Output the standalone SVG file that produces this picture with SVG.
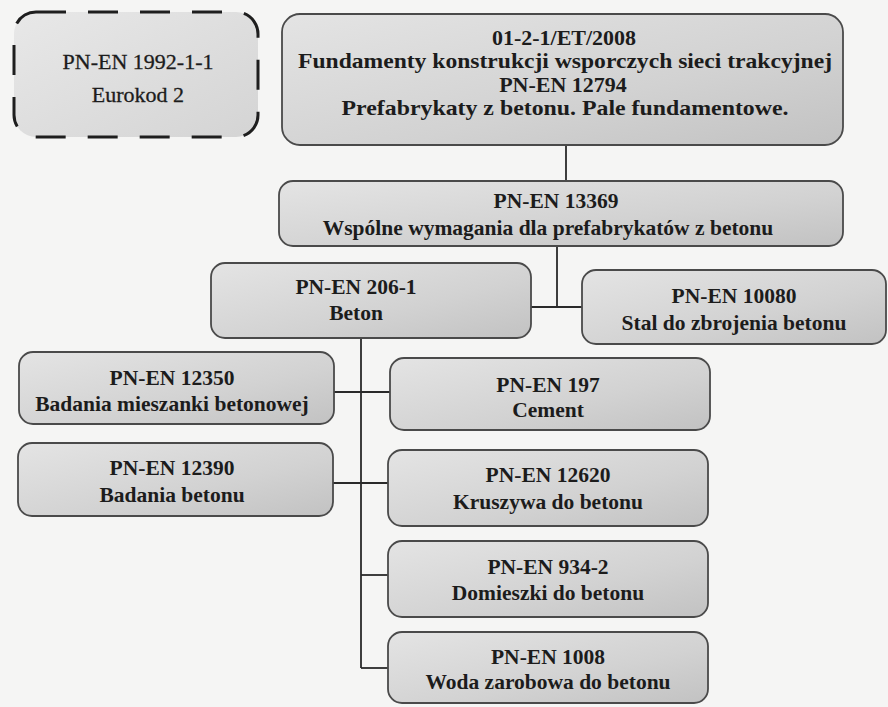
<svg xmlns="http://www.w3.org/2000/svg" width="888" height="707" viewBox="0 0 888 707">
<defs>
<linearGradient id="g" x1="0" y1="0" x2="1" y2="1">
<stop offset="0" stop-color="#e4e4e4"/>
<stop offset="0.6" stop-color="#d2d2d2"/>
<stop offset="1" stop-color="#c2c2c2"/>
</linearGradient>
<linearGradient id="gd" x1="0" y1="0" x2="1" y2="1">
<stop offset="0" stop-color="#e8e8e8"/>
<stop offset="1" stop-color="#d4d4d4"/>
</linearGradient>
<style>
.box{fill:url(#g);stroke:#4a4a4a;stroke-width:1.8}
.dash{fill:url(#gd);stroke:#1e1e1e;stroke-width:3;stroke-dasharray:30 22}
.t{font-family:"Liberation Serif","Times New Roman",serif;font-size:21.5px;font-weight:bold;fill:#1c1c1c;text-anchor:middle}
.r{font-weight:normal;font-size:22px;stroke:#1c1c1c;stroke-width:0.3}
.h{font-size:22px}
.c{stroke:#2a2a2a;stroke-width:1.8;fill:none}
</style>
</defs>
<rect width="888" height="707" fill="#f5f5f4"/>
<g id="connectors">
<path class="c" d="M566 145V181"/>
<path class="c" d="M557 246V307M531 307H582"/>
<path class="c" d="M361 338V668"/>
<path class="c" d="M334 392H390"/>
<path class="c" d="M333 483H388"/>
<path class="c" d="M361 575H388"/>
<path class="c" d="M361 668H388"/>
</g>
<g id="n1992">
<rect class="dash" x="14" y="12" width="244" height="125" rx="22"/>
<text class="t r" x="138" y="69">PN-EN 1992-1-1</text>
<text class="t r" x="138" y="102">Eurokod 2</text>
</g>
<g id="n01">
<rect class="box" x="282" y="14" width="561" height="131" rx="18"/>
<text class="t h" x="564" y="45">01-2-1/ET/2008</text>
<text class="t h" x="565" y="68" textLength="534" lengthAdjust="spacingAndGlyphs">Fundamenty konstrukcji wsporczych sieci trakcyjnej</text>
<text class="t h" x="563" y="92">PN-EN 12794</text>
<text class="t h" x="565" y="115" textLength="447" lengthAdjust="spacingAndGlyphs">Prefabrykaty z betonu. Pale fundamentowe.</text>
</g>
<g id="n13369">
<rect class="box" x="279" y="181" width="564" height="65" rx="14"/>
<text class="t" x="556" y="208">PN-EN 13369</text>
<text class="t" x="548" y="235">Wspólne wymagania dla prefabrykatów z betonu</text>
</g>
<g id="n206">
<rect class="box" x="211" y="263" width="320" height="75" rx="14"/>
<text class="t" x="356" y="294">PN-EN 206-1</text>
<text class="t" x="356" y="320">Beton</text>
</g>
<g id="n10080">
<rect class="box" x="582" y="270" width="304" height="74" rx="14"/>
<text class="t" x="734" y="303">PN-EN 10080</text>
<text class="t" x="734" y="330">Stal do zbrojenia betonu</text>
</g>
<g id="n12350">
<rect class="box" x="19" y="352" width="315" height="72" rx="14"/>
<text class="t" x="172" y="385">PN-EN 12350</text>
<text class="t" x="172" y="411">Badania mieszanki betonowej</text>
</g>
<g id="n197">
<rect class="box" x="390" y="358" width="320" height="72" rx="14"/>
<text class="t" x="548" y="392">PN-EN 197</text>
<text class="t" x="548" y="417">Cement</text>
</g>
<g id="n12390">
<rect class="box" x="18" y="443" width="315" height="73" rx="14"/>
<text class="t" x="172" y="475">PN-EN 12390</text>
<text class="t" x="172" y="502">Badania betonu</text>
</g>
<g id="n12620">
<rect class="box" x="388" y="450" width="320" height="76" rx="14"/>
<text class="t" x="548" y="482">PN-EN 12620</text>
<text class="t" x="548" y="509">Kruszywa do betonu</text>
</g>
<g id="n934">
<rect class="box" x="388" y="541" width="320" height="76" rx="14"/>
<text class="t" x="548" y="574">PN-EN 934-2</text>
<text class="t" x="548" y="600">Domieszki do betonu</text>
</g>
<g id="n1008">
<rect class="box" x="388" y="632" width="320" height="71" rx="14"/>
<text class="t" x="548" y="664">PN-EN 1008</text>
<text class="t" x="548" y="689">Woda zarobowa do betonu</text>
</g>
</svg>
